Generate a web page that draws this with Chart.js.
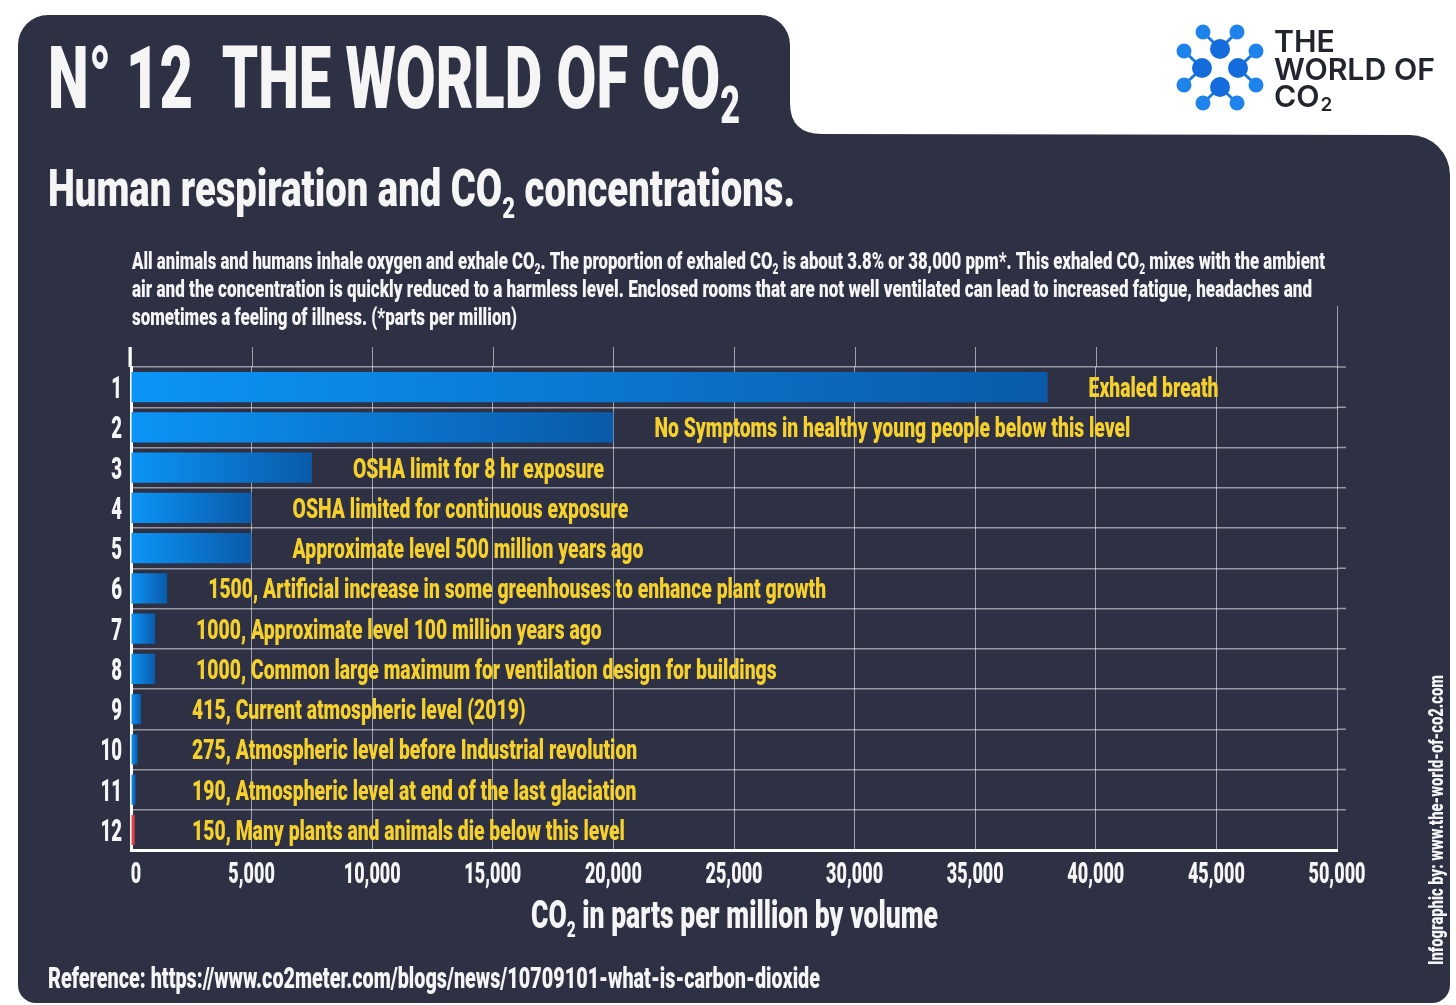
<!DOCTYPE html>
<html>
<head>
<meta charset="utf-8">
<script src="https://cdn.jsdelivr.net/npm/chart.js@4.4.0/dist/chart.umd.min.js"></script>
<style>
html, body { margin: 0; padding: 0; background: #fff; }
#wrap { position: relative; width: 1456px; height: 1005px; }
</style>
</head>
<body>
<div id="wrap"><canvas id="c"></canvas></div>
<script>
// rank numbers down the left side
const ranks = ['1', '2', '3', '4', '5', '6', '7', '8', '9', '10', '11', '12'];
// CO2 concentration in ppm for each row
const ppm = [38000, 20000, 7500, 5000, 5000, 1500, 1000, 1000, 415, 275, 190, 150];
const notes = [
    'Exhaled breath',
    'No Symptoms in healthy young people below this level',
    'OSHA limit for 8 hr exposure',
    'OSHA limited for continuous exposure',
    'Approximate level 500 million years ago',
    '1500, Artificial increase in some greenhouses to enhance plant growth',
    '1000, Approximate level 100 million years ago',
    '1000, Common large maximum for ventilation design for buildings',
    '415, Current atmospheric level (2019)',
    '275, Atmospheric level before Industrial revolution',
    '190, Atmospheric level at end of the last glaciation',
    '150, Many plants and animals die below this level'
];
const xMax = 50000;
const xStep = 5000;

const PANEL = '#2e3144';
const YELLOW = '#f6d12b';
const WHITE = '#f5f5f5';
const FONT = 'Roboto, "Liberation Sans", sans-serif';

function font(size, weight) {
    return (weight || '900') + ' ' + size + 'px ' + FONT;
}

// split text on the subscript two, so CO₂ gets a small lowered "2"
function parts(text, size, subSize, dy) {
    const out = [];
    text.split('₂').forEach((t, i) => {
        if (i > 0) out.push({ t: '2', size: subSize, dy: dy });
        if (t) out.push({ t: t, size: size });
    });
    return out;
}

function runWidth(ctx, ps) {
    let w = 0;
    for (const p of ps) {
        ctx.font = font(p.size, p.weight);
        w += ctx.measureText(p.t).width;
    }
    return w;
}

// draws text squeezed sideways (the original uses a condensed face)
function drawRun(ctx, ps, x, y, sx, align) {
    const w = runWidth(ctx, ps) * sx;
    let cx = align === 'right' ? x - w : align === 'center' ? x - w / 2 : x;
    ctx.textAlign = 'left';
    ctx.textBaseline = 'alphabetic';
    for (const p of ps) {
        ctx.font = font(p.size, p.weight);
        const pw = ctx.measureText(p.t).width;
        ctx.save();
        ctx.translate(cx, y + (p.dy || 0));
        ctx.scale(sx, 1);
        ctx.fillText(p.t, 0, 0);
        ctx.restore();
        cx += pw * sx;
    }
}

function fitRun(ctx, ps, x, y, width) {
    drawRun(ctx, ps, x, y, width / runWidth(ctx, ps), 'left');
}

function barFill(c) {
    const chart = c.chart;
    if (c.dataIndex === ppm.length - 1) return '#e8414b';
    if (!chart.chartArea) return '#0a86e6';
    const xs = chart.scales.x;
    const x0 = xs.getPixelForValue(0);
    const x1 = Math.max(xs.getPixelForValue(c.raw), x0 + 2);
    const g = chart.ctx.createLinearGradient(x0, 0, x1, 0);
    g.addColorStop(0, '#0b95f7');
    g.addColorStop(1, '#0a5aa9');
    return g;
}

const backdrop = {
    id: 'backdrop',
    beforeDraw(chart) {
        const ctx = chart.ctx;
        ctx.save();

        // dark panel with the title tab
        ctx.fillStyle = PANEL;
        ctx.beginPath();
        ctx.moveTo(18, 45);
        ctx.arcTo(18, 15, 48, 15, 30);
        ctx.lineTo(760, 15);
        ctx.arcTo(790, 15, 790, 45, 30);
        ctx.lineTo(790, 103);
        ctx.quadraticCurveTo(790, 134, 822, 134);
        ctx.lineTo(1410, 135);
        ctx.arcTo(1450, 135, 1450, 175, 40);
        ctx.lineTo(1450, 985);
        ctx.arcTo(1450, 1003, 1432, 1003, 18);
        ctx.lineTo(36, 1003);
        ctx.arcTo(18, 1003, 18, 985, 18);
        ctx.closePath();
        ctx.fill();

        // logo molecule
        const bigs = [[1220, 49], [1202, 68], [1238, 68], [1220, 87]];
        const smalls = [[1203, 32, 0], [1237, 32, 0], [1184, 51, 1], [1184, 85, 1],
                        [1256, 51, 2], [1256, 85, 2], [1203, 103, 3], [1237, 103, 3]];
        ctx.strokeStyle = '#1a78e4';
        ctx.lineWidth = 3;
        smalls.forEach(s => {
            const b = bigs[s[2]];
            ctx.beginPath(); ctx.moveTo(s[0], s[1]); ctx.lineTo(b[0], b[1]); ctx.stroke();
        });
        ctx.fillStyle = '#1e84ec';
        smalls.forEach(s => { ctx.beginPath(); ctx.arc(s[0], s[1], 7.5, 0, Math.PI * 2); ctx.fill(); });
        ctx.fillStyle = '#146cdc';
        bigs.forEach(b => { ctx.beginPath(); ctx.arc(b[0], b[1], 10, 0, Math.PI * 2); ctx.fill(); });

        // logo words
        ctx.fillStyle = '#23252e';
        const lf = 'Inter, Roboto, sans-serif';
        ctx.font = '600 30px ' + lf;
        const lsx = 161 / ctx.measureText('WORLD OF').width;
        const logoLine = (t, y) => {
            ctx.font = '600 30px ' + lf;
            ctx.save(); ctx.translate(1274, y); ctx.scale(lsx, 1); ctx.fillText(t, 0, 0);
            const w = ctx.measureText(t).width;
            ctx.restore();
            return w * lsx;
        };
        ctx.textAlign = 'left';
        ctx.textBaseline = 'alphabetic';
        logoLine('THE', 52);
        logoLine('WORLD OF', 80);
        const cw = logoLine('CO', 107);
        ctx.font = '600 19px ' + lf;
        ctx.fillText('2', 1274 + cw + 1, 111);

        // headings
        ctx.fillStyle = WHITE;
        fitRun(ctx, parts('N° 12  THE WORLD OF CO₂', 88, 52, 15), 48, 108, 692);
        fitRun(ctx, parts('Human respiration and CO₂ concentrations.', 52, 30, 12), 48, 206, 747);

        // intro paragraph
        fitRun(ctx, parts('All animals and humans inhale oxygen and exhale CO₂. The proportion of exhaled CO₂ is about 3.8% or 38,000 ppm*. This exhaled CO₂ mixes with the ambient', 23, 14, 5), 132, 269, 1193);
        fitRun(ctx, parts('air and the concentration is quickly reduced to a harmless level. Enclosed rooms that are not well ventilated can lead to increased fatigue, headaches and', 23, 14, 5), 132, 297, 1180);
        fitRun(ctx, parts('sometimes a feeling of illness. (*parts per million)', 23, 14, 5), 132, 325, 385);

        ctx.restore();
    },
    beforeDatasetsDraw(chart) {
        // grid lines run a little past the plot, the last one further up
        const ctx = chart.ctx;
        const xs = chart.scales.x;
        const ys = chart.scales.y;
        const area = chart.chartArea;
        ctx.save();
        ctx.strokeStyle = 'rgba(255,255,255,0.55)';
        ctx.lineWidth = 1;
        xs.ticks.forEach((t, i) => {
            const px = Math.round(xs.getPixelForValue(t.value)) + 0.5;
            const up = i === xs.ticks.length - 1 ? 61 : 20;
            ctx.beginPath(); ctx.moveTo(px, area.top); ctx.lineTo(px, area.top - up); ctx.stroke();
        });
        ctx.strokeStyle = 'rgba(255,255,255,0.5)';
        ctx.lineWidth = 1.5;
        for (let i = 0; i < ranks.length; i++) {
            const py = ys.getPixelForValue(i) - (ys.getPixelForValue(1) - ys.getPixelForValue(0)) / 2;
            ctx.beginPath(); ctx.moveTo(area.right, py); ctx.lineTo(area.right + 9, py); ctx.stroke();
        }
        const x0 = xs.getPixelForValue(0);
        ctx.strokeStyle = '#fff';
        ctx.lineWidth = 3;
        ctx.beginPath(); ctx.moveTo(x0 - 1, area.top); ctx.lineTo(x0 - 1, area.top - 20); ctx.stroke();
        ctx.restore();
    }
};

const overlay = {
    id: 'overlay',
    afterDraw(chart) {
        const ctx = chart.ctx;
        const xs = chart.scales.x;
        const ys = chart.scales.y;
        ctx.save();

        // condensing factors taken from the widths in the original
        ctx.font = font(30);
        const tickSx = 57 / ctx.measureText('50,000').width;
        ctx.font = font(28);
        const labSx = 476 / ctx.measureText(notes[1]).width;

        ctx.fillStyle = WHITE;
        xs.ticks.forEach(t => {
            const px = xs.getPixelForValue(t.value) + (t.value === 0 ? 5 : 0);
            drawRun(ctx, [{ t: t.value.toLocaleString('en-US'), size: 30 }], px, 883, tickSx, 'center');
        });
        ranks.forEach((r, i) => {
            drawRun(ctx, [{ t: r, size: 31 }], 122, ys.getPixelForValue(i) + 11, tickSx, 'right');
        });

        ctx.fillStyle = YELLOW;
        const minX = xs.getPixelForValue(0) + 61;
        notes.forEach((n, i) => {
            const x = Math.max(xs.getPixelForValue(ppm[i]) + 41, minX);
            drawRun(ctx, [{ t: n, size: 28 }], x, ys.getPixelForValue(i) + 10, labSx, 'left');
        });

        ctx.fillStyle = WHITE;
        fitRun(ctx, parts('CO₂ in parts per million by volume', 38, 22, 9), 531, 928, 407);
        fitRun(ctx, parts('Reference: https://www.co2meter.com/blogs/news/10709101-what-is-carbon-dioxide', 29, 18, 0), 48, 988, 772);

        ctx.save();
        ctx.translate(1443, 965);
        ctx.rotate(-Math.PI / 2);
        fitRun(ctx, parts('Infographic by: www.the-world-of-co2.com', 21, 13, 0), 0, 0, 290);
        ctx.restore();

        ctx.restore();
    }
};

new Chart(document.getElementById('c'), {
    type: 'bar',
    data: {
        labels: ranks,
        datasets: [{
            data: ppm,
            backgroundColor: barFill,
            borderWidth: 0,
            barPercentage: 0.75,
            categoryPercentage: 1
        }]
    },
    options: {
        indexAxis: 'y',
        responsive: true,
        maintainAspectRatio: false,
        animation: false,
        layout: { padding: { left: 131, right: 119, top: 367, bottom: 155 } },
        plugins: { legend: { display: false }, tooltip: { enabled: false } },
        scales: {
            x: {
                min: 0,
                max: xMax,
                ticks: { display: false, stepSize: xStep },
                grid: { color: 'rgba(255,255,255,0.55)', lineWidth: 1, drawTicks: false },
                border: { color: '#ffffff', width: 3 }
            },
            y: {
                ticks: { display: false },
                grid: { color: 'rgba(255,255,255,0.5)', lineWidth: 1.5, drawTicks: false, offset: true },
                border: { color: '#ffffff', width: 3 }
            }
        }
    },
    plugins: [backdrop, overlay]
});
</script>
</body>
</html>
